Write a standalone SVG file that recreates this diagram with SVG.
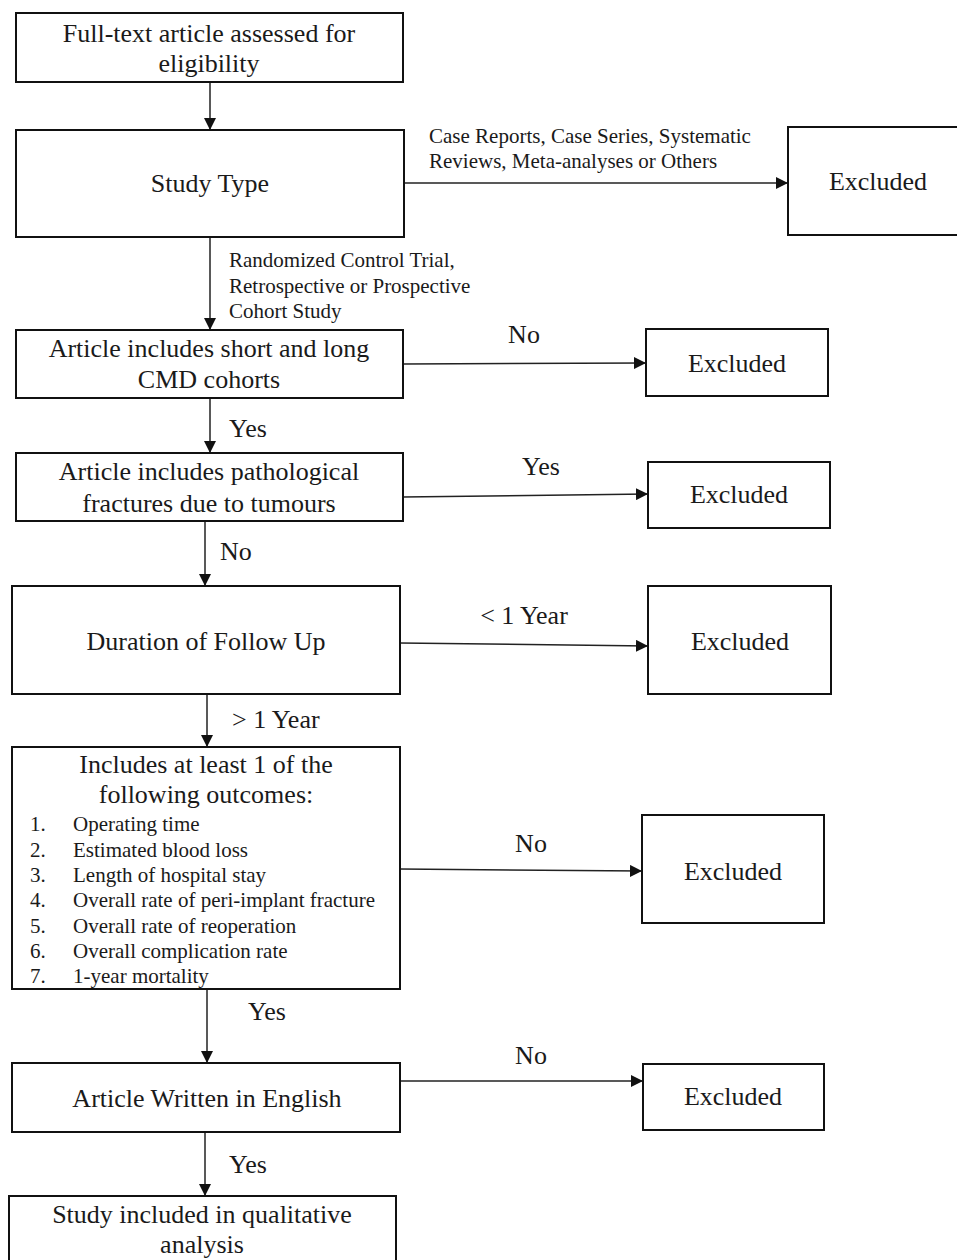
<svg xmlns="http://www.w3.org/2000/svg" width="957" height="1260" viewBox="0 0 957 1260">
<style>
.box{fill:#fff;stroke:#111;stroke-width:2}
.t{font-family:"Liberation Serif","Times New Roman",serif;font-size:26px;fill:#1a1a1a}
.c{text-anchor:middle}
.s{font-family:"Liberation Serif","Times New Roman",serif;font-size:21px;fill:#1a1a1a}
.ln{stroke:#222;stroke-width:1.5;fill:none;marker-end:url(#ah)}
</style>
<defs>
<marker id="ah" markerUnits="userSpaceOnUse" markerWidth="12" markerHeight="12" refX="12" refY="6" orient="auto">
<path d="M0,0 L12,6 L0,12 z" fill="#111"/>
</marker>
</defs>
<rect width="957" height="1260" fill="#fff"/>
<g id="connectors">
<line class="ln" x1="210" y1="82" x2="210" y2="130"/>
<line class="ln" x1="210" y1="237" x2="210" y2="330"/>
<line class="ln" x1="404" y1="183" x2="788" y2="183"/>
<line class="ln" x1="210" y1="398" x2="210" y2="453"/>
<line class="ln" x1="403" y1="364" x2="646" y2="363"/>
<line class="ln" x1="205" y1="521" x2="205" y2="586"/>
<line class="ln" x1="403" y1="497" x2="648" y2="494"/>
<line class="ln" x1="207" y1="694" x2="207" y2="747"/>
<line class="ln" x1="400" y1="643" x2="648" y2="646"/>
<line class="ln" x1="207" y1="989" x2="207" y2="1063"/>
<line class="ln" x1="400" y1="869" x2="642" y2="871"/>
<line class="ln" x1="205" y1="1132" x2="205" y2="1196"/>
<line class="ln" x1="400" y1="1081" x2="643" y2="1081"/>
<text class="s" x="429" y="143">Case Reports, Case Series, Systematic</text>
<text class="s" x="429" y="168">Reviews, Meta-analyses or Others</text>
<text class="s" x="229" y="267">Randomized Control Trial,</text>
<text class="s" x="229" y="293">Retrospective or Prospective</text>
<text class="s" x="229" y="318">Cohort Study</text>
<text class="t c" x="524" y="343">No</text>
<text class="t" x="229" y="437">Yes</text>
<text class="t c" x="541" y="475">Yes</text>
<text class="t" x="220" y="560">No</text>
<text class="t c" x="524" y="624">&lt; 1 Year</text>
<text class="t" x="232" y="728">&gt; 1 Year</text>
<text class="t c" x="531" y="852">No</text>
<text class="t" x="248" y="1020">Yes</text>
<text class="t c" x="531" y="1064">No</text>
<text class="t" x="229" y="1173">Yes</text>
</g>
<g id="n1"><rect class="box" x="16" y="13" width="387" height="69"/>
<text class="t c" x="209" y="42">Full-text article assessed for</text>
<text class="t c" x="209" y="72">eligibility</text></g>
<g id="n2"><rect class="box" x="16" y="130" width="388" height="107"/>
<text class="t c" x="210" y="192">Study Type</text></g>
<g id="x1"><rect class="box" x="788" y="127" width="170" height="108"/>
<text class="t c" x="878" y="190">Excluded</text></g>
<g id="n3"><rect class="box" x="16" y="330" width="387" height="68"/>
<text class="t c" x="209" y="357">Article includes short and long</text>
<text class="t c" x="209" y="388">CMD cohorts</text></g>
<g id="x2"><rect class="box" x="646" y="329" width="182" height="67"/>
<text class="t c" x="737" y="372">Excluded</text></g>
<g id="n4"><rect class="box" x="16" y="453" width="387" height="68"/>
<text class="t c" x="209" y="480">Article includes pathological</text>
<text class="t c" x="209" y="512">fractures due to tumours</text></g>
<g id="x3"><rect class="box" x="648" y="462" width="182" height="66"/>
<text class="t c" x="739" y="503">Excluded</text></g>
<g id="n5"><rect class="box" x="12" y="586" width="388" height="108"/>
<text class="t c" x="206" y="650">Duration of Follow Up</text></g>
<g id="x4"><rect class="box" x="648" y="586" width="183" height="108"/>
<text class="t c" x="740" y="650">Excluded</text></g>
<g id="n6"><rect class="box" x="12" y="747" width="388" height="242"/>
<text class="t c" x="206" y="773">Includes at least 1 of the</text>
<text class="t c" x="206" y="803">following outcomes:</text>
<text class="s" x="30" y="831">1.</text><text class="s" x="73" y="831">Operating time</text>
<text class="s" x="30" y="857">2.</text><text class="s" x="73" y="857">Estimated blood loss</text>
<text class="s" x="30" y="882">3.</text><text class="s" x="73" y="882">Length of hospital stay</text>
<text class="s" x="30" y="907">4.</text><text class="s" x="73" y="907">Overall rate of peri-implant fracture</text>
<text class="s" x="30" y="933">5.</text><text class="s" x="73" y="933">Overall rate of reoperation</text>
<text class="s" x="30" y="958">6.</text><text class="s" x="73" y="958">Overall complication rate</text>
<text class="s" x="30" y="983">7.</text><text class="s" x="73" y="983">1-year mortality</text></g>
<g id="x5"><rect class="box" x="642" y="815" width="182" height="108"/>
<text class="t c" x="733" y="880">Excluded</text></g>
<g id="n7"><rect class="box" x="12" y="1063" width="388" height="69"/>
<text class="t c" x="207" y="1107">Article Written in English</text></g>
<g id="x6"><rect class="box" x="643" y="1064" width="181" height="66"/>
<text class="t c" x="733" y="1105">Excluded</text></g>
<g id="n8"><rect class="box" x="9" y="1196" width="387" height="70"/>
<text class="t c" x="202" y="1223">Study included in qualitative</text>
<text class="t c" x="202" y="1253">analysis</text></g>
</svg>
